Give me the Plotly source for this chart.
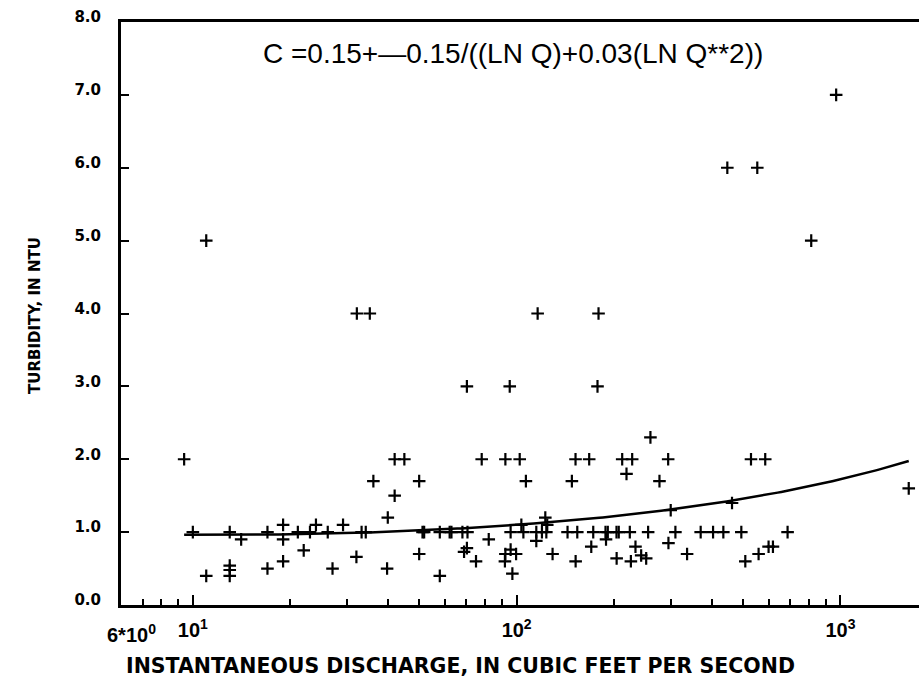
import numpy as np
import plotly.graph_objects as go

# Instantaneous discharge (cubic feet per second) and turbidity (NTU) samples
discharge_cfs = [
    9.4, 10.0, 11.0, 11.0, 13.0, 13.0, 13.0, 13.0, 14.1, 17.0,
    17.0, 19.0, 19.0, 19.0, 21.1, 22.0, 23.0, 24.0, 26.1, 27.0,
    29.1, 32.0, 33.2, 34.2, 32.1, 35.2, 36.1, 39.8, 40.0, 42.0,
    42.0, 45.0, 50.0, 50.0, 51.2, 51.8, 57.9, 57.9, 62.1, 62.9,
    68.0, 70.5, 68.8, 70.2, 70.2, 74.9, 78.0, 82.0, 92.3, 92.3,
    92.0, 95.2, 95.8, 95.8, 97.0, 99.6, 102.2, 103.4, 104.9, 106.8,
    115.0, 115.0, 116.1, 119.7, 123.5, 122.6, 124.3, 129.1, 143.6, 148.1,
    152.0, 152.1, 153.9, 167.5, 170.0, 172.4, 177.7, 179.0, 188.1, 191.2,
    188.8, 203.4, 206.7, 203.6, 211.8, 227.4, 218.4, 223.6, 225.3, 232.8,
    242.4, 251.2, 254.7, 258.9, 276.1, 293.7, 299.1, 309.2, 294.3, 336.0,
    370.1, 404.2, 434.8, 447.3, 462.5, 494.1, 508.3, 529.3, 553.5, 558.7,
    585.7, 599.8, 618.7, 686.6, 812.3, 969.9, 1625.0,
]
turbidity_ntu = [
    2.0, 1.0, 0.4, 5.0, 1.0, 0.54, 0.48, 0.4, 0.9, 1.0,
    0.5, 1.1, 0.9, 0.6, 1.0, 0.75, 1.0, 1.1, 1.0, 0.5,
    1.1, 0.66, 1.0, 1.0, 4.0, 4.0, 1.7, 0.5, 1.2, 2.0,
    1.5, 2.0, 1.7, 0.7, 1.0, 1.0, 1.0, 0.4, 1.0, 1.0,
    1.0, 1.0, 0.73, 0.78, 3.0, 0.6, 2.0, 0.9, 2.0, 0.7,
    0.6, 3.0, 1.0, 0.76, 0.43, 0.7, 2.0, 1.1, 1.0, 1.7,
    1.0, 0.88, 4.0, 1.0, 1.0, 1.2, 1.1, 0.7, 1.0, 1.7,
    2.0, 0.6, 1.0, 2.0, 0.8, 1.0, 3.0, 4.0, 1.0, 1.0,
    0.9, 1.0, 1.0, 0.64, 2.0, 2.0, 1.8, 1.0, 0.6, 0.8,
    0.68, 0.64, 1.0, 2.3, 1.7, 2.0, 1.3, 1.0, 0.85, 0.7,
    1.0, 1.0, 1.0, 6.0, 1.4, 1.0, 0.6, 2.0, 6.0, 0.7,
    2.0, 0.8, 0.8, 1.0, 5.0, 7.0, 1.6,
]

# Fitted regression coefficients (log-quadratic in ln Q)
fit_b0, fit_b1, fit_b2 = 0.15, -0.15, 0.03
equation_text = "C =0.15+\u20140.15/((LN Q)+0.03(LN Q**2))"

y_tick_values = [0, 1, 2, 3, 4, 5, 6, 7, 8]
y_tick_labels = ["0.0", "1.0", "2.0", "3.0", "4.0", "5.0", "6.0", "7.0", "8.0"]
x_major_ticks = [10, 100, 1000]
x_major_labels = ["10<sup>1</sup>", "10<sup>2</sup>", "10<sup>3</sup>"]
x_minor_ticks = [7, 8, 9, 20, 30, 40, 50, 60, 70, 80, 90,
                 200, 300, 400, 500, 600, 700, 800, 900]
x_min, x_max = 6, 1748

# Regression curve across the sampled discharge range
q_fit = np.logspace(np.log10(min(discharge_cfs)), np.log10(max(discharge_cfs)), 200)
ln_q = np.log(q_fit)
c_fit = np.exp(fit_b0 + fit_b1 * ln_q + fit_b2 * ln_q ** 2)

fig = go.Figure()
fig.add_trace(go.Scatter(
    x=q_fit, y=c_fit, mode="lines",
    line=dict(color="black", width=2.5),
    hoverinfo="skip", showlegend=False,
))
fig.add_trace(go.Scatter(
    x=discharge_cfs, y=turbidity_ntu, mode="markers",
    marker=dict(symbol="cross-thin", size=9, line=dict(color="black", width=2.2)),
    showlegend=False,
))

# plot-area edges in pixels
L, T, B = 121, 22, 73
W, H = 919, 678
PW, PH = W - L, H - T - B

label_font = "Liberation Sans Narrow, Liberation Sans, Arial"

fig.update_layout(
    width=W, height=H,
    margin=dict(l=L, r=0, t=T, b=B),
    paper_bgcolor="white", plot_bgcolor="white",
    font=dict(family="DejaVu Sans, Arial", color="black"),
    xaxis=dict(
        type="log",
        range=[np.log10(x_min), np.log10(x_max)],
        showgrid=False, zeroline=False,
        showline=True, linecolor="black", linewidth=3, mirror=True,
        ticks="inside", ticklen=10, tickwidth=2, tickcolor="black",
        tickvals=x_major_ticks, ticktext=x_major_labels,
        tickfont=dict(family=label_font, size=20, color="black", weight="bold"),
        ticklabelstandoff=5,
        minor=dict(tickvals=x_minor_ticks, ticks="inside", ticklen=6,
                   tickwidth=2, tickcolor="black", showgrid=False),
    ),
    yaxis=dict(
        range=[0, 8],
        showgrid=False, zeroline=False,
        showline=True, linecolor="black", linewidth=3,
        ticks="inside", ticklen=8, tickwidth=2, tickcolor="black",
        tickvals=y_tick_values, ticktext=y_tick_labels,
        tickfont=dict(family="DejaVu Sans, Arial", size=15, color="black", weight="bold"),
        ticklabelstandoff=14, ticklabelshift=-5,
    ),
    annotations=[
        dict(text="6*10<sup>0</sup>", xref="x", yref="paper",
             x=np.log10(x_min), y=0, xshift=10, yshift=-14,
             yanchor="top", showarrow=False,
             font=dict(family=label_font, size=20, color="black", weight="bold")),
        dict(text=equation_text, xref="paper", yref="paper",
             x=(513 - L) / PW, y=1 - (53 - T) / PH,
             xanchor="center", yanchor="middle", showarrow=False,
             font=dict(family=label_font, size=28, color="black")),
        dict(text="TURBIDITY, IN NTU", xref="paper", yref="paper",
             x=-(L - 35) / PW, y=1 - (316 - T) / PH,
             xanchor="center", yanchor="middle", textangle=-90, showarrow=False,
             font=dict(family="DejaVu Sans, Arial", size=15, color="black", weight="bold")),
        dict(text="INSTANTANEOUS DISCHARGE, IN CUBIC FEET PER SECOND",
             xref="paper", yref="paper",
             x=(460 - L) / PW, y=-(666 - (H - B)) / PH,
             xanchor="center", yanchor="middle", showarrow=False,
             font=dict(family="DejaVu Sans, Arial", size=20.5, color="black", weight="bold")),
    ],
)

fig.write_html("out.html")
